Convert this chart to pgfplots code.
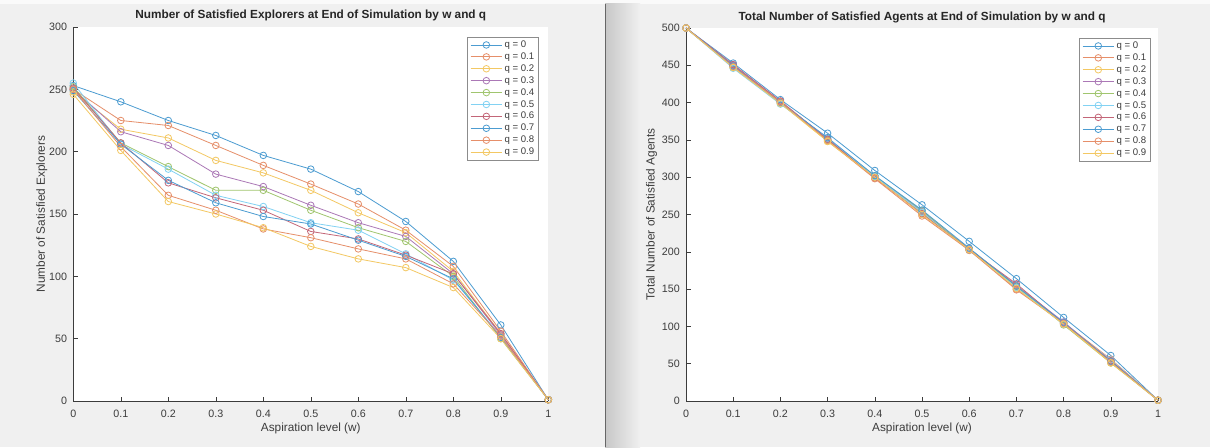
\documentclass[border=0pt]{standalone}
\usepackage{pgfplots}
\pgfplotsset{compat=1.18}
\usepackage{pgfplotstable}
\usepackage{fontspec}
\setmainfont{Liberation Sans}

\definecolor{figbg}{RGB}{240,240,240}
\definecolor{axgray}{RGB}{60,60,60}
\definecolor{mblue}{RGB}{0,114,189}
\definecolor{morange}{RGB}{217,83,25}
\definecolor{myellow}{RGB}{237,177,32}
\definecolor{mpurple}{RGB}{126,47,142}
\definecolor{mgreen}{RGB}{119,172,48}
\definecolor{mcyan}{RGB}{77,190,238}
\definecolor{mred}{RGB}{162,20,47}

% explorers at end of simulation
\pgfplotstableread{
w   q0  q1  q2  q3  q4  q5  q6  q7  q8  q9
0   253 250 248 250 252 255 251 249 250 246
0.1 240 225 218 216 207 206 207 206 204 201
0.2 225 221 211 205 188 186 175 177 165 160
0.3 213 205 193 182 169 165 163 159 153 150
0.4 197 189 183 172 169 156 153 148 138 139
0.5 186 174 169 157 153 143 136 142 131 124
0.6 168 158 151 143 139 137 130 129 122 114
0.7 144 137 135 132 128 118 117 116 114 107
0.8 112 108 104 102 100 97  102 98  94  91
0.9 61  56  54  53  50  52  54  51  52  50
1   1   1   1   1   1   1   1   1   1   1
}\explorers

% all satisfied agents
\pgfplotstableread{
w   q0  q1  q2  q3  q4  q5  q6  q7  q8  q9
0   500 500 500 500 500 500 500 500 500 500
0.1 453 449 447 450 448 446 451 449 448 447
0.2 404 401 399 402 400 398 402 400 401 399
0.3 359 350 348 351 350 352 351 353 349 348
0.4 309 300 299 301 302 301 299 302 298 300
0.5 263 250 252 254 255 253 251 256 248 250
0.6 214 203 202 204 203 202 203 205 202 203
0.7 164 150 153 155 154 152 157 154 149 151
0.8 112 105 104 106 102 103 104 105 104 103
0.9 61  56  54  53  51  55  54  53  52  51
1   1   1   1   1   1   1   1   1   1   1
}\totals

\pgfplotsset{
  mat/.style={
    scale only axis,
    anchor=south west,
    clip=false,
    axis x line=bottom,
    axis y line=left,
    axis line style={-, color=axgray, line width=0.6pt},
    axis background/.style={fill=white},
    tick align=inside,
    major tick length=4.5pt,
    tick style={color=axgray, line width=0.6pt},
    xmin=0, xmax=1, ymin=0,
    xtick={0,0.1,0.2,0.3,0.4,0.5,0.6,0.7,0.8,0.9,1},
    xticklabels={0,0.1,0.2,0.3,0.4,0.5,0.6,0.7,0.8,0.9,1},
    /pgf/number format/assume math mode=true,
    tick label style={font=\fontsize{10.7}{12}\selectfont, color=axgray},
    xticklabel style={inner sep=0pt, anchor=north, yshift=-9pt},
    yticklabel style={inner sep=0pt, anchor=east, xshift=-6pt},
    label style={font=\fontsize{11.8}{13}\selectfont, color=axgray},
    xlabel style={at={(axis description cs:0.5,0)}, anchor=north, inner sep=0pt, yshift=-22pt},
    title style={font=\bfseries\fontsize{11.8}{13}\selectfont, color=black!85, at={(0.5,1)}, anchor=base, inner sep=0pt, yshift=2pt},
    xlabel={Aspiration level (w)},
    every axis plot/.append style={mark=o, mark size=3.3pt, line width=0.8pt, mark options={solid}},
    legend cell align={left},
    legend image code/.code={\draw[mark repeat=2, mark phase=2] plot coordinates {(0pt,0pt) (15.8pt,0pt) (31.6pt,0pt)};},
    legend style={anchor=north east, draw=black!45, line width=0.6pt, fill=white,
      font=\fontsize{9.6}{11}\selectfont, text=axgray,
      inner xsep=2.5pt, inner ysep=2pt, row sep=0pt,
      nodes={inner xsep=2pt, inner ysep=1.2pt, text height=7.3pt, text depth=2.2pt}},
    cycle list={
      {mblue!70!white}, {morange!65!white}, {myellow!70!white}, {mpurple!65!white},
      {mgreen!70!white}, {mcyan!70!white}, {mred!65!white}, {mblue!70!white},
      {morange!65!white}, {myellow!70!white}},
  }
}

\begin{document}
\begin{tikzpicture}
\fill[figbg] (0pt,0pt) rectangle (1210pt,447pt);
\fill[white!70!figbg] (0pt,443pt) rectangle (1210pt,447pt);
\shade[left color=black!22, right color=figbg] (605pt,0pt) rectangle (640pt,443pt);
\draw[black!60, line width=1pt] (605pt,0pt) -- (605pt,443pt);

\begin{axis}[mat,
  at={(73.3pt,46pt)}, width=475pt, height=374pt,
  ymax=300, ytick={0,50,...,300},
  ylabel={Number of Satisfied Explorers},
  ylabel style={at={(axis description cs:-0.0665,0.5)}, anchor=center, inner sep=0pt},
  title={Number of Satisfied Explorers at End of Simulation by w and q},
  legend style={at={(0.9804,0.974)}},
]
\addplot table[x=w, y=q0] {\explorers}; \addlegendentry{q = 0}
\addplot table[x=w, y=q1] {\explorers}; \addlegendentry{q = 0.1}
\addplot table[x=w, y=q2] {\explorers}; \addlegendentry{q = 0.2}
\addplot table[x=w, y=q3] {\explorers}; \addlegendentry{q = 0.3}
\addplot table[x=w, y=q4] {\explorers}; \addlegendentry{q = 0.4}
\addplot table[x=w, y=q5] {\explorers}; \addlegendentry{q = 0.5}
\addplot table[x=w, y=q6] {\explorers}; \addlegendentry{q = 0.6}
\addplot table[x=w, y=q7] {\explorers}; \addlegendentry{q = 0.7}
\addplot table[x=w, y=q8] {\explorers}; \addlegendentry{q = 0.8}
\addplot table[x=w, y=q9] {\explorers}; \addlegendentry{q = 0.9}
\end{axis}

\begin{axis}[mat,
  at={(686pt,46pt)}, width=472pt, height=373pt,
  ymax=500, ytick={0,50,...,500},
  ylabel={Total Number of Satisfied Agents},
  ylabel style={at={(axis description cs:-0.0727,0.5)}, anchor=center, inner sep=0pt},
  title={Total Number of Satisfied Agents at End of Simulation by w and q},
  legend style={at={(0.985,0.974)}},
]
\addplot table[x=w, y=q0] {\totals}; \addlegendentry{q = 0}
\addplot table[x=w, y=q1] {\totals}; \addlegendentry{q = 0.1}
\addplot table[x=w, y=q2] {\totals}; \addlegendentry{q = 0.2}
\addplot table[x=w, y=q3] {\totals}; \addlegendentry{q = 0.3}
\addplot table[x=w, y=q4] {\totals}; \addlegendentry{q = 0.4}
\addplot table[x=w, y=q5] {\totals}; \addlegendentry{q = 0.5}
\addplot table[x=w, y=q6] {\totals}; \addlegendentry{q = 0.6}
\addplot table[x=w, y=q7] {\totals}; \addlegendentry{q = 0.7}
\addplot table[x=w, y=q8] {\totals}; \addlegendentry{q = 0.8}
\addplot table[x=w, y=q9] {\totals}; \addlegendentry{q = 0.9}
\end{axis}
\end{tikzpicture}
\end{document}
